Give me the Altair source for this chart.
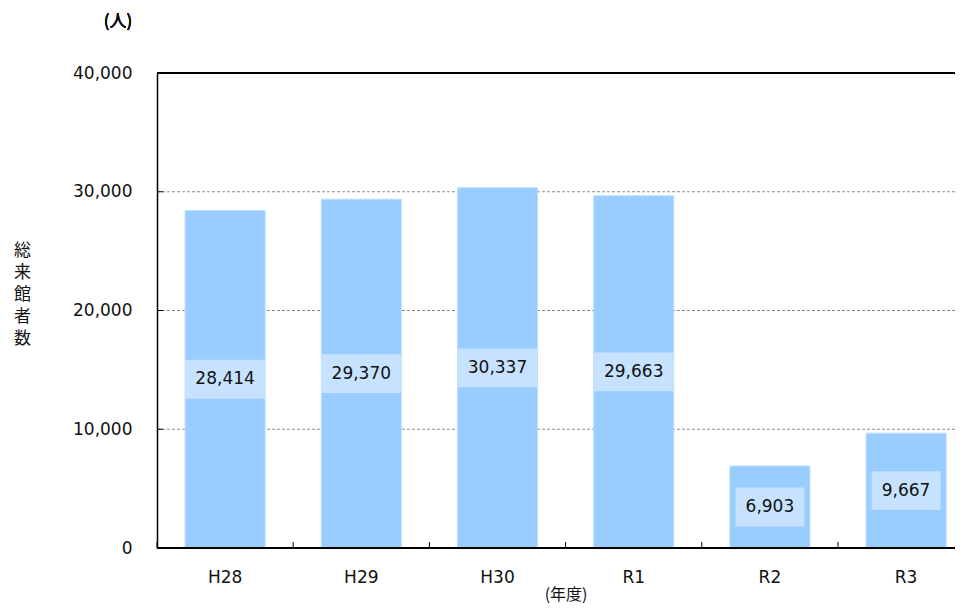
import altair as alt
import pandas as pd

years = ["H28", "H29", "H30", "R1", "R2", "R3"]
visitors = [28414, 29370, 30337, 29663, 6903, 9667]
grid_values = [10000, 20000, 30000]
y_ticks = [0, 10000, 20000, 30000, 40000]

df = pd.DataFrame({"year": years, "value": visitors})
grid_df = pd.DataFrame({"g": grid_values})

W, H = 798, 475
STEP = 136.2
FONT = "DejaVu Sans"
CJK = "Noto Sans CJK JP"

xscale = alt.Scale(domain=years, range=[0, STEP * 6], paddingInner=0.4126,
                   paddingOuter=0.2063, round=False)
yscale = alt.Scale(domain=[0, 40000], nice=False)

YT = ["総", "来", "館", "者", "数"]
yaxis = alt.Axis(values=y_ticks, labelExpr="format(datum.value, ',')", ticks=False, grid=False,
                 domain=True, domainColor="#000", domainWidth=1.5,
                 labelFont=FONT, labelFontSize=17, labelColor="#111",
                 labelPadding=25,
                 title=YT, titleAngle=0,
                 titleX=-135, titleY=169, titleBaseline="top",
                 titleAlign="center", titleLineHeight=22,
                 titleFont=CJK, titleFontSize=17, titleFontWeight="normal",
                 titleColor="#111")

base = alt.Chart(df)

grid = alt.Chart(grid_df).mark_rule(color="#8a8a8a", strokeWidth=1, strokeDash=[3, 2]).encode(
    y=alt.Y("g:Q", scale=yscale, axis=yaxis, title=YT),
    x=alt.value(0), x2=alt.value(W),
)

bars = base.mark_bar(color="#99CCFF", stroke="#B9DCFF", strokeWidth=1).encode(
    x=alt.X("year:N", scale=xscale, sort=years,
            axis=alt.Axis(title="(年度)", labelAngle=0, ticks=False, domain=False,
                          labelFont=FONT, labelFontSize=17, labelColor="#111",
                          labelPadding=21, titleFont=CJK, titleFontSize=16,
                          titleFontWeight="normal", titlePadding=1, titleColor="#111")),
    y=alt.Y("value:Q", scale=yscale, axis=yaxis, title=YT),
)

boxes = base.transform_calculate(
    lo="datum.value/2 - 1640",
    hi="datum.value/2 + 1640",
    boxw="length(format(datum.value, ',')) * 11 + 14",
).mark_bar(color="#C6E2FF").encode(
    x=alt.X("year:N", scale=xscale, sort=years),
    y=alt.Y("lo:Q", scale=yscale, axis=yaxis, title=YT),
    y2="hi:Q",
    size=alt.Size("boxw:Q", scale=None, legend=None),
)

labels = base.transform_calculate(mid="datum.value/2").mark_text(
    font=FONT, fontSize=17, color="#111", baseline="middle", align="center"
).encode(
    x=alt.X("year:N", scale=xscale, sort=years),
    y=alt.Y("mid:Q", scale=yscale, axis=yaxis, title=YT),
    text=alt.Text("value:Q", format=","),
)

top_line = alt.Chart(df).mark_rule(color="#000", strokeWidth=1.5).encode(
    y=alt.value(0), x=alt.value(0), x2=alt.value(W),
)
bottom_line = alt.Chart(df).mark_rule(color="#000", strokeWidth=1.5).encode(
    y=alt.value(H), x=alt.value(0), x2=alt.value(W),
)

xticks = base.mark_rule(color="#000", strokeWidth=1, xOffset=-STEP / 2).encode(
    x=alt.X("year:N", scale=xscale, sort=years),
    y=alt.value(H - 6), y2=alt.value(H),
)

yticks = alt.Chart(grid_df).mark_rule(color="#000", strokeWidth=1).encode(
    y=alt.Y("g:Q", scale=yscale, axis=yaxis, title=YT),
    x=alt.value(0), x2=alt.value(6),
)

unit = alt.Chart(df).mark_text(font=CJK, fontSize=17, color="#111", align="center",
                               baseline="middle").encode(
    x=alt.value(-39), y=alt.value(-51), text=alt.value("(人)"),
)

chart = alt.layer(grid, bars, boxes, labels, top_line, bottom_line, xticks, yticks, unit).properties(
    width=W, height=H,
    autosize=alt.AutoSizeParams(type="none"),
    padding={"left": 149, "top": 65, "right": 0, "bottom": 57},
).configure(background="white", view=alt.ViewConfig(stroke=None))

chart.save("out.html", embed_options={"renderer": "svg", "actions": False})
